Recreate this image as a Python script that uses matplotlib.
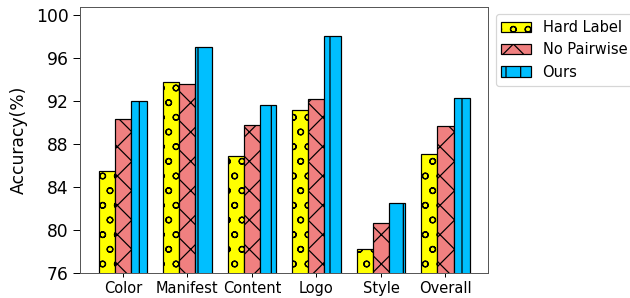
import numpy as np
import matplotlib
matplotlib.use('Agg')
import matplotlib.pyplot as plt

# 카테고리와 각 방법별 정확도
categories = ['Color', 'Manifest', 'Content', 'Logo', 'Style', 'Overall']
hard_label = [85.5, 93.8, 86.9, 91.2, 78.2, 87.1]
no_pairwise = [90.3, 93.6, 89.8, 92.2, 80.6, 89.7]
ours = [92.0, 97.1, 91.6, 98.1, 82.5, 92.3]
yticks = [76, 80, 84, 88, 92, 96, 100]


def main():
    dpi = 88
    fig = plt.figure(figsize=(630 / dpi, 298 / dpi), dpi=dpi)
    ax = fig.add_axes([0.127, 0.085, 0.648, 0.892])

    x = np.arange(len(categories))
    width = 0.25

    ax.bar(x - width, hard_label, width, color='yellow', edgecolor='black',
           hatch='o', label='Hard Label')
    ax.bar(x, no_pairwise, width, color='lightcoral', edgecolor='black',
           hatch='x', label='No Pairwise')
    ax.bar(x + width, ours, width, color='deepskyblue', edgecolor='black',
           hatch='|', label='Ours')

    ax.set_ylim(76, 100.8)
    ax.set_yticks(yticks)
    ax.tick_params(axis='y', labelsize=14, length=6)
    ax.set_xticks(x)
    ax.set_xticklabels(categories, fontsize=12)
    ax.set_ylabel('Accuracy(%)', fontsize=14, labelpad=6)

    for s in ax.spines.values():
        s.set_color('#555555')

    ax.legend(loc='upper left', bbox_to_anchor=(1.0, 1.0), fontsize=12)

    fig.savefig('out.png', dpi=dpi)


if __name__ == "__main__":
    main()
